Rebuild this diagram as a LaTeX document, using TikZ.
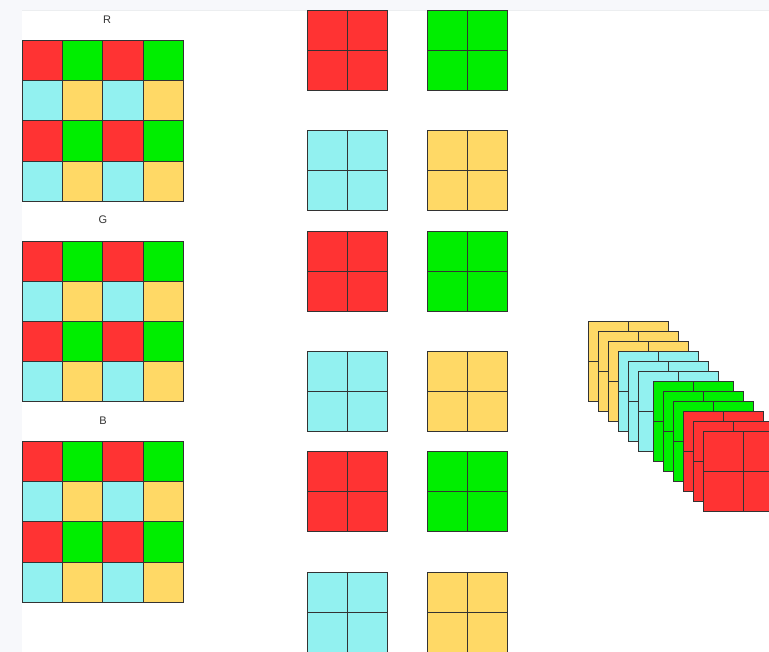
\documentclass[tikz,border=0pt]{standalone}
\usepackage{fontspec}
\setmainfont{Liberation Sans}
\definecolor{cR}{HTML}{FF3333}
\definecolor{cG}{HTML}{00EE00}
\definecolor{cC}{HTML}{92F1F0}
\definecolor{cY}{HTML}{FFD966}
\definecolor{edge}{HTML}{333333}
\definecolor{bgc}{HTML}{F7F8FB}
\definecolor{topline}{HTML}{ECEEF0}
\newcommand\mysq[3]{%
  \fill[#3] (#1,#2) rectangle ++(80,80);
  \draw[sqline] (#1,#2) rectangle ++(80,80);
  \draw[sqline] (#1+40,#2) -- ++(0,80);
  \draw[sqline] (#1,#2+40) -- ++(80,0);}
\begin{document}
\begin{tikzpicture}[x=1pt,y=-1pt,
  sqline/.style={draw=edge,line width=0.9pt},
  cellbox/.style={draw=edge,line width=0.9pt},
  lbl/.style={font=\fontsize{11}{13}\selectfont,text=black!80,inner sep=0pt}]
\useasboundingbox (0,0) rectangle (769,652);
\clip (0,0) rectangle (769,652);
\fill[bgc] (0,0) rectangle (769,652);
\fill[white] (22,10) rectangle (769,652);
\draw[topline,line width=1pt] (22,10.5) -- (769,10.5);
% labels
\node[lbl] (lR) at (107,20) {R};
\node[lbl] (lG) at (103,220) {G};
\node[lbl] (lB) at (103,421) {B};
% left 4x4 grids
\foreach \gy in {40.5,241,441.5}{
  \foreach \r/\ca/\cb in {0/cR/cG,1/cC/cY,2/cR/cG,3/cC/cY}{
    \foreach \c in {0,2}{
      \filldraw[fill=\ca,cellbox] (22.5+\c*40.2,\gy+\r*40.2) rectangle ++(40.2,40.2);
      \filldraw[fill=\cb,cellbox] (22.5+\c*40.2+40.2,\gy+\r*40.2) rectangle ++(40.2,40.2);
    }
  }
}
% middle squares
\foreach \yy/\ca/\cb in {10.5/cR/cG,130.5/cC/cY,231/cR/cG,351.5/cC/cY,451.5/cR/cG,572/cC/cY}{
  \mysq{307.5}{\yy}{\ca}
  \mysq{427.5}{\yy}{\cb}
}
% stack
\foreach \xx/\yy/\cc in {588/321.7/cY,598.3/331.7/cY,608.3/341.7/cY,
  618.3/351.7/cC,628.3/361.7/cC,638.3/371.7/cC,
  653.3/381.7/cG,663.3/391.7/cG,673.3/401.7/cG,
  683.3/411.7/cR,693.3/421.7/cR,703.3/431.7/cR}{
  \mysq{\xx}{\yy}{\cc}
}
\end{tikzpicture}
\end{document}
